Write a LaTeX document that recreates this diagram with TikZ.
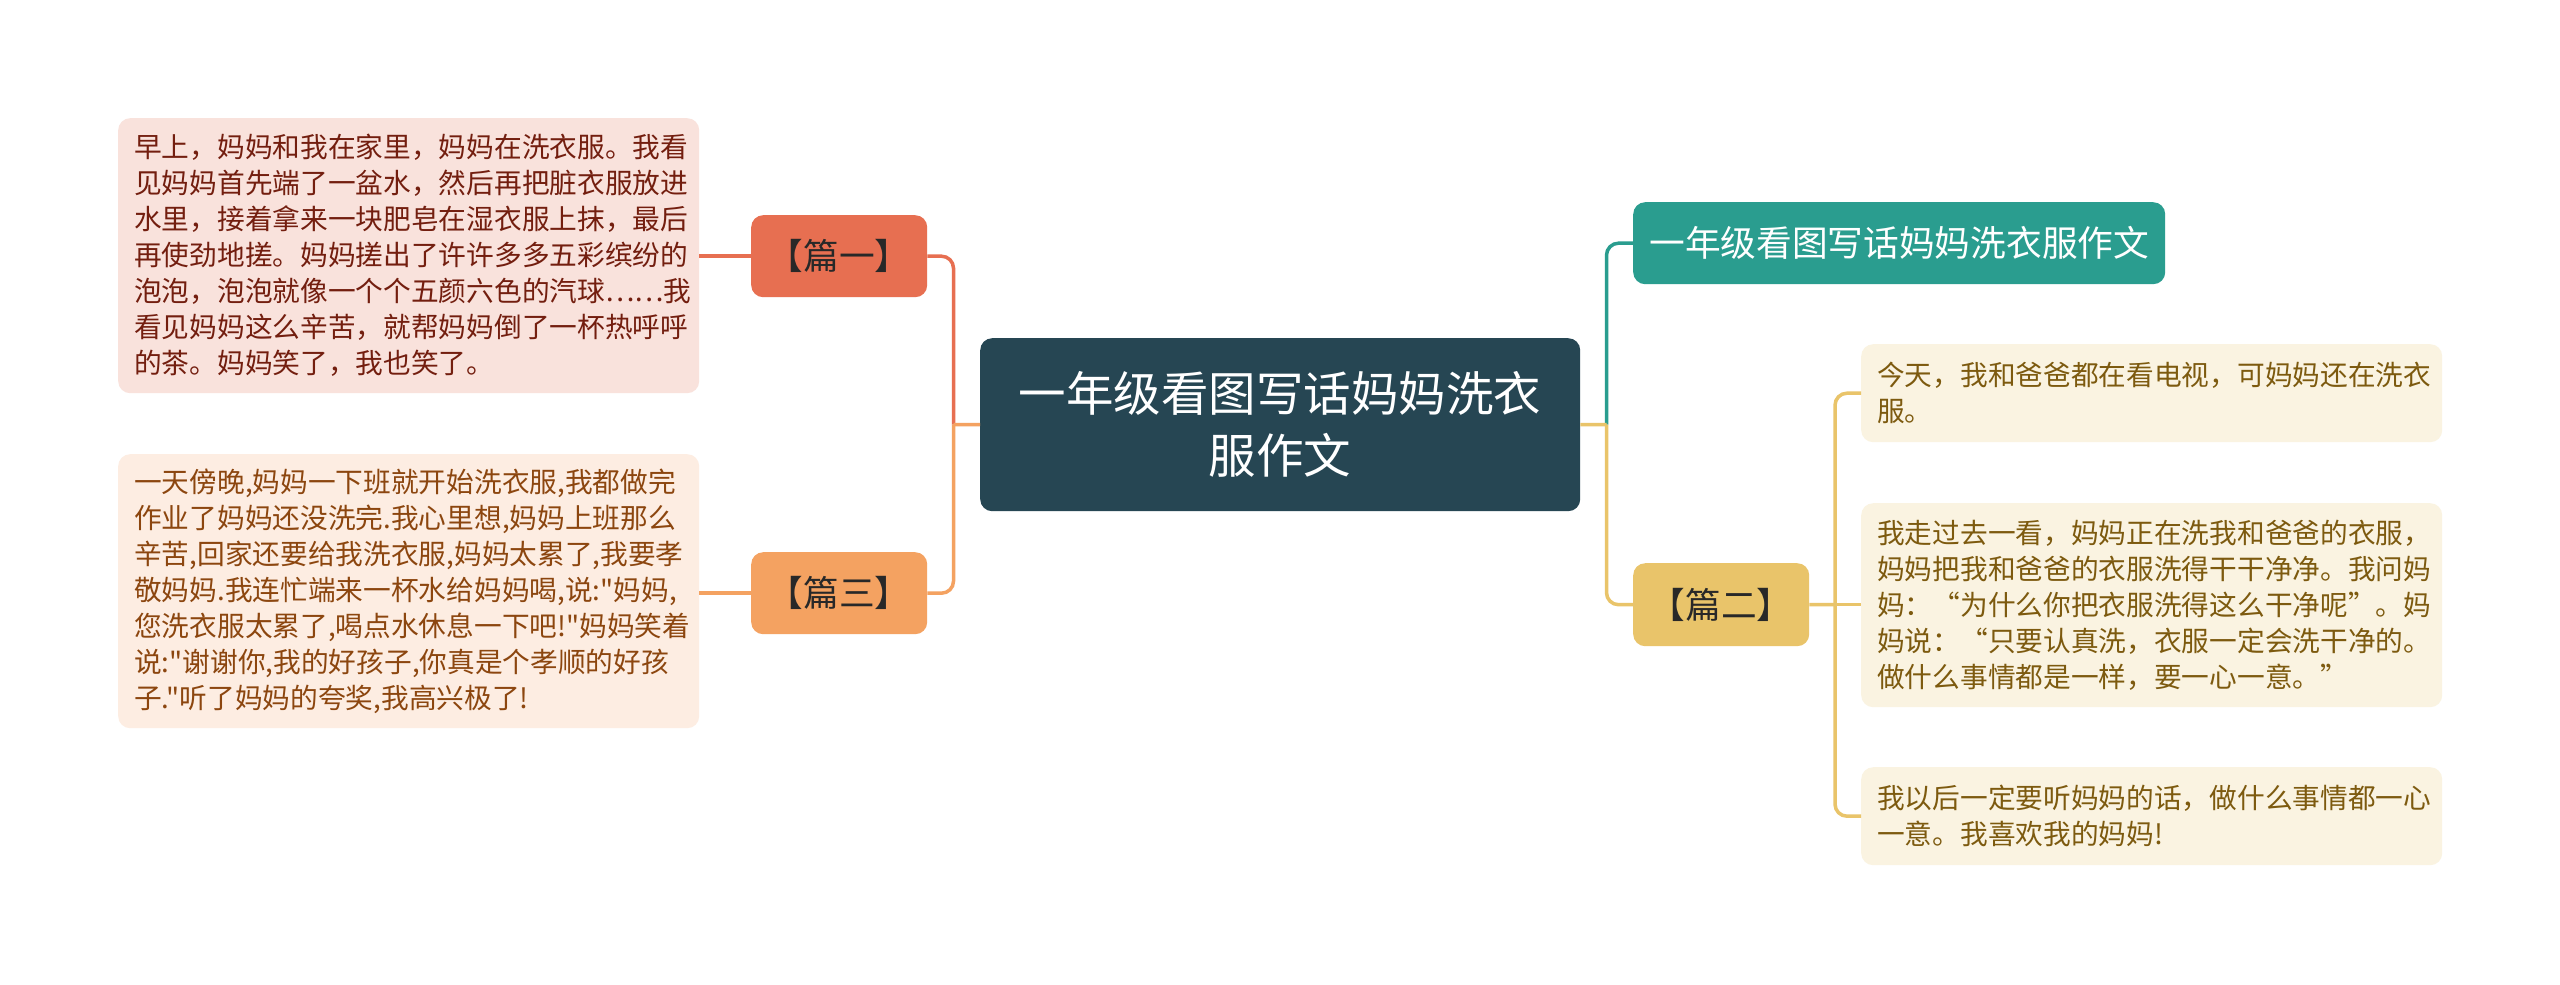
\documentclass[tikz,border=0pt]{standalone}
\usepackage{fontspec}
\setmainfont{Noto Sans CJK SC}[Ligatures=TeXOff]
\definecolor{cdark}{RGB}{38,70,83}
\definecolor{cteal}{RGB}{42,157,143}
\definecolor{cred}{RGB}{231,111,81}
\definecolor{corange}{RGB}{244,162,97}
\definecolor{cyellow}{RGB}{233,196,106}
\definecolor{fpink}{RGB}{249,226,220}
\definecolor{fpeach}{RGB}{253,237,226}
\definecolor{fcream}{RGB}{250,243,225}
\definecolor{tred}{RGB}{115,30,15}
\definecolor{tbrown}{RGB}{140,70,15}
\definecolor{tolive}{RGB}{125,90,15}
\definecolor{tdark}{RGB}{40,40,40}
\begin{document}
\begin{tikzpicture}[x=1pt,y=-1pt,
  leaf/.style={rounded corners=12pt, anchor=north west, inner xsep=16pt, inner ysep=0pt,
    text width=549pt, align=left, font=\fontsize{27.7}{36}\selectfont},
  topic/.style={rounded corners=12pt, anchor=north west, inner sep=0pt, align=center,
    font=\fontsize{35.7}{44}\selectfont},
  conn/.style={line width=3.5pt, rounded corners=12pt},
]
\useasboundingbox[fill=white] (0,0) rectangle (2560,985);

% central
\node[topic, fill=cdark, text=white, minimum width=600pt, minimum height=173pt,
  font=\fontsize{47.5}{62}\selectfont] (central) at (980,338)
  {一年级看图写话妈妈洗衣\\服作文};

% main topics
\node[topic, fill=cred, text=tdark, minimum width=176pt, minimum height=82pt] (p1) at (751,215) {【篇一】};
\node[topic, fill=corange, text=tdark, minimum width=176pt, minimum height=82pt] (p3) at (751,552) {【篇三】};
\node[topic, fill=cteal, text=white, minimum width=532pt, minimum height=82pt] (teal) at (1633,202) {一年级看图写话妈妈洗衣服作文};
\node[topic, fill=cyellow, text=tdark, minimum width=176pt, minimum height=83pt] (p2) at (1633,563) {【篇二】};

% leaves
\node[leaf, fill=fpink, text=tred, minimum height=275pt] (l1) at (118,118)
{早上，妈妈和我在家里，妈妈在洗衣服。我看\\
见妈妈首先端了一盆水，然后再把脏衣服放进\\
水里，接着拿来一块肥皂在湿衣服上抹，最后\\
再使劲地搓。妈妈搓出了许许多多五彩缤纷的\\
泡泡，泡泡就像一个个五颜六色的汽球……我\\
看见妈妈这么辛苦，就帮妈妈倒了一杯热呼呼\\
的茶。妈妈笑了，我也笑了。};

\node[leaf, fill=fpeach, text=tbrown, minimum height=274pt] (l3) at (118,454)
{一天傍晚,妈妈一下班就开始洗衣服,我都做完\\
作业了妈妈还没洗完.我心里想,妈妈上班那么\\
辛苦,回家还要给我洗衣服,妈妈太累了,我要孝\\
敬妈妈.我连忙端来一杯水给妈妈喝,说:"妈妈,\\
您洗衣服太累了,喝点水休息一下吧!"妈妈笑着\\
说:"谢谢你,我的好孩子,你真是个孝顺的好孩\\
子."听了妈妈的夸奖,我高兴极了!};

\node[leaf, fill=fcream, text=tolive, minimum height=98pt] (l2a) at (1861,344)
{今天，我和爸爸都在看电视，可妈妈还在洗衣\\服。};

\node[leaf, fill=fcream, text=tolive, minimum height=204pt] (l2b) at (1861,503)
{我走过去一看，妈妈正在洗我和爸爸的衣服\makebox[0.45em][l]{，}\\
妈妈把我和爸爸的衣服洗得干干净净。我问妈\\
妈：“为什么你把衣服洗得这么干净呢”。妈\\
妈说：“只要认真洗，衣服一定会洗干净的。\\
做什么事情都是一样，要一心一意。”};

\node[leaf, fill=fcream, text=tolive, minimum height=98pt] (l2c) at (1861,767)
{我以后一定要听妈妈的话，做什么事情都一心\\一意。我喜欢我的妈妈!};

% junctions
\coordinate (tl) at (953.5,424.5);
\coordinate (tr) at (1606.5,424.5);
\coordinate (t2) at (1835,604.5);

% left connectors
\draw[conn, cred] (tl) |- (p1.east);
\draw[conn, corange] (tl) |- (p3.east);
\draw[conn, corange] (central.west) -- (tl);
\draw[conn, cred] (p1.west) -- (p1.west -| l1.east);
\draw[conn, corange] (p3.west) -- (p3.west -| l3.east);

% right connectors
\draw[conn, cteal] (tr) |- (teal.west);
\draw[conn, cyellow] (tr) |- (p2.west);
\draw[conn, cyellow] (central.east) -- (tr);
\draw[conn, cyellow] (p2.east) -- (t2);
\draw[conn, cyellow] (t2) |- (l2a.west);
\draw[conn, cyellow] (t2) |- (l2c.west);
\draw[conn, cyellow] (t2) -- (t2 -| l2b.west);
\end{tikzpicture}
\end{document}
